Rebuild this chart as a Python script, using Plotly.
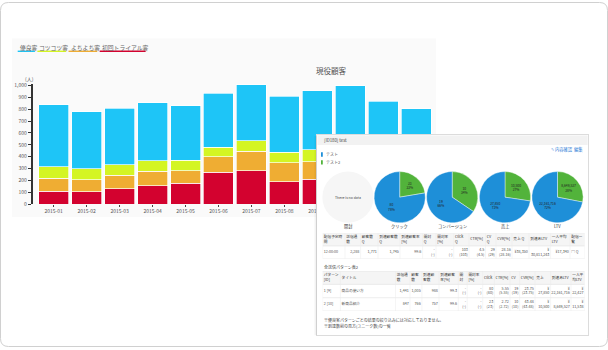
import plotly.graph_objects as go

W, H = 608, 350

# ---------------- data ----------------
months = ["2015-01", "2015-02", "2015-03", "2015-04", "2015-05", "2015-06",
          "2015-07", "2015-08", "2015-09", "2015-10", "2015-11", "2015-12"]
trial_customers = [108, 103, 131, 153, 175, 267, 283, 189, 211, 230, 200, 180]   # 初回トライアル客
yochi_customers = [111, 102, 113, 125, 108, 133, 164, 158, 145, 140, 130, 120]   # よちよち客
kotsu_customers = [95, 95, 89, 89, 86, 81, 86, 89, 102, 100, 90, 90]             # コツコツ客
good_customers = [525, 478, 475, 489, 462, 455, 475, 472, 500, 530, 449, 416]    # 優良客

series_names = ["初回トライアル客", "よちよち客", "コツコツ客", "優良客"]
series_values = [trial_customers, yochi_customers, kotsu_customers, good_customers]
series_colors = ["#D3022F", "#EFAD33", "#D4F523", "#1EC5F7"]
legend_order = ["優良客", "コツコツ客", "よちよち客", "初回トライアル客"]

y_ticks = [0, 100, 200, 300, 400, 500, 600, 700, 800, 900, 1000]

pie_titles = ["開封", "クリック", "コンバージョン", "売上", "LTV"]
pie_labels = ["テスト2", "テスト"]
pie_colors = ["#52B33B", "#1E8FD8"]
open_values = []
click_values = [23, 80]
cv_values = [10, 19]
sales_values = [10500, 27850]
ltv_values = [8649527, 22161716]
pie_values = [open_values, click_values, cv_values, sales_values, ltv_values]

t1_header = ["配信予定時<br>間", "送信通<br>数", "顧客数<br>Q", "到達顧客数<br>Q", "到達顧客率<br>[%]",
             "開封<br>Q", "開封率<br>[%]", "Click<br>Q", "CTR[%]", "CV<br>Q", "CVR[%]",
             "売上 Q", "到達あLTV", "一人平均<br>LTV", "配信一<br>覧"]
t1_row = ["12:00:00", "2,288", "1,771", "1,745", "99.6", "-<br>(-)", "-<br>(-)",
          "103<br>(103)", "4.5<br>(4.5)", "29<br>(29)", "28.16<br>(28.16)", "¥38,350",
          "¥<br>30,811,243", "¥17,340", "▤ Q"]
t1_widths = [22.4, 15.6, 17.4, 22, 22.6, 13.4, 17.7, 15.3, 16.5, 10.5, 16, 17, 21.6, 19.4, 14.7]
t1_aligns = ["left"] + ["right"] * 13 + ["left"]

t2_title = "全送信パターン表2"
t2_header = ["パターン<br>[ID]", "タイトル", "送信通<br>数", "顧客<br>数", "到達顧<br>客数", "到達顧客<br>率[%]",
             "開<br>封", "開封率<br>[%]", "Click", "CTR[%]", "CV", "CVR[%]", "売上", "到達あLTV", "一人平<br>均LTV"]
t2_row1 = ["1 [9]", "商品の使い方", "1,441", "1,005", "988", "99.3", "-<br>(-)", "-<br>(-)",
           "80<br>(80)", "5.55<br>(5.55)", "19<br>(19)", "23.75<br>(23.75)", "¥<br>27,850",
           "¥<br>22,161,716", "¥<br>22,427"]
t2_row2 = ["2 [10]", "新商品紹介", "847", "766", "757", "99.6", "-<br>(-)", "-<br>(-)",
           "23<br>(23)", "2.72<br>(2.72)", "10<br>(10)", "43.48<br>(43.48)", "¥<br>10,500",
           "¥<br>8,649,527", "¥<br>11,538"]
t2_widths = [17.8, 55.1, 14.5, 11.9, 17.1, 19.3, 8.9, 15.5, 11.7, 15.6, 9.6, 15.4, 15.6, 20.4, 13.7]
t2_aligns = ["left", "left"] + ["right"] * 13

footer_notes = ["※優良客パターンごとの結果の絞り込みには対応しておりません。",
                "※到達数前の見方(ユニーク数)の一覧"]

FONT = "Noto Sans CJK JP, Noto Sans, sans-serif"


def px(x):
    return x / W


def py(y):
    return 1 - y / H


fig = go.Figure()
ann = []
shapes = []
layout_axes = {}

# ---------------- stacked bars ----------------
for name, vals, col in zip(series_names, series_values, series_colors):
    fig.add_trace(go.Bar(x=months, y=vals, name=name,
                         marker=dict(color=col, line=dict(color="rgba(255,255,255,0.85)", width=0.8)),
                         xaxis="x", yaxis="y", showlegend=False, hoverinfo="skip"))

# overlay panel subplot (its background covers the bars)
fig.add_trace(go.Scatter(x=[None], y=[None], xaxis="x2", yaxis="y2", showlegend=False, hoverinfo="skip"))

# ---------------- pies ----------------
pie_cx = [348, 399.7, 452.2, 505, 557.5]
pie_cy = 198
pie_r = 26
for i, (title, vals) in enumerate(zip(pie_titles, pie_values)):
    dom = dict(x=[px(pie_cx[i] - pie_r), px(pie_cx[i] + pie_r)], y=[py(pie_cy + pie_r), py(pie_cy - pie_r)])
    if len(vals) == 0:
        fig.add_trace(go.Pie(values=[1], labels=["no data"], domain=dom, sort=False, textinfo="none",
                             marker=dict(colors=["#F6F6F6"]), showlegend=False, hoverinfo="skip"))
        ann.append(dict(x=px(pie_cx[i]), y=py(pie_cy), text="There is no data", font=dict(size=3.5, color="#444")))
    else:
        fig.add_trace(go.Pie(values=vals, labels=pie_labels, domain=dom, sort=False, direction="counterclockwise",
                             rotation=0, marker=dict(colors=pie_colors, line=dict(color="white", width=0.4)),
                             texttemplate="%{value:,}<br>%{percent:.0%}", textposition="inside",
                             insidetextorientation="horizontal",
                             textfont=dict(size=3.3, color="#222"), showlegend=False, hoverinfo="skip"))
    ann.append(dict(x=px(pie_cx[i]), y=py(227.5), text=title, font=dict(size=4.2, color="#333")))


# ---------------- tables (drawn on their own cartesian subplots) ----------------
def add_table(n, header, rows, widths, aligns, left, top, heights):
    xa, ya = f"x{n}", f"y{n}"
    total_w, total_h = sum(widths), sum(heights)
    layout_axes[f"xaxis{n}"] = dict(domain=[px(left), px(left + total_w)], range=[0, total_w], anchor=ya,
                                    visible=False, fixedrange=True)
    layout_axes[f"yaxis{n}"] = dict(domain=[py(top + total_h), py(top)], range=[total_h, 0], anchor=xa,
                                    visible=False, fixedrange=True)
    col_edges = [sum(widths[:k]) for k in range(len(widths) + 1)]
    row_edges = [sum(heights[:k]) for k in range(len(heights) + 1)]
    xs, ys, txt, pos, cols = [], [], [], [], []
    for r, row in enumerate([header] + rows):
        for c, val in enumerate(row):
            al = "left" if r == 0 else aligns[c]
            if al == "left":
                xs.append(col_edges[c] + 1.2)
                pos.append("middle right")
            else:
                xs.append(col_edges[c + 1] - 1.2)
                pos.append("middle left")
            ys.append((row_edges[r] + row_edges[r + 1]) / 2)
            txt.append(val)
            cols.append("#333" if r == 0 else "#555")
    # header background
    shapes.append(dict(type="rect", xref=xa, yref=ya, layer="between", x0=0, x1=total_w,
                       y0=row_edges[0], y1=row_edges[1], fillcolor="#F5F5F5", line=dict(width=0)))
    for re_ in row_edges:
        shapes.append(dict(type="line", xref=xa, yref=ya, layer="above", x0=0, x1=total_w, y0=re_, y1=re_,
                           line=dict(color="#E3E3E3", width=0.6)))
    for ce in col_edges:
        shapes.append(dict(type="line", xref=xa, yref=ya, layer="above", x0=ce, x1=ce,
                           y0=0, y1=total_h, line=dict(color="#EBEBEB", width=0.5)))
    fig.add_trace(go.Scatter(x=xs, y=ys, text=txt, mode="text", textposition=pos,
                             textfont=dict(size=3.7, color=cols, family=FONT), xaxis=xa, yaxis=ya,
                             showlegend=False, hoverinfo="skip", cliponaxis=False))


add_table(3, t1_header, [t1_row], t1_widths, t1_aligns, 322.6, 234.5, [13, 13])
add_table(4, t2_header, [t2_row1, t2_row2], t2_widths, t2_aligns, 322.6, 273, [13.5, 13.5, 13.5])

# ---------------- annotations & decorations ----------------
ann.append(dict(x=px(331), y=py(69.5), text="現役顧客", font=dict(size=7.5, color="#555")))
ann.append(dict(x=px(29), y=py(78), text="(人)", font=dict(size=5, color="#555")))

# outer rounded frame
rx, ry = 8 / W, 8 / H
x0, x1, y0, y1 = px(0.5), px(607.5), py(349.5), py(0.5)
shapes.append(dict(type="path", xref="paper", yref="paper", layer="below",
                   path=f"M{x0+rx},{y0} L{x1-rx},{y0} Q{x1},{y0} {x1},{y0+ry} L{x1},{y1-ry} Q{x1},{y1} {x1-rx},{y1} "
                        f"L{x0+rx},{y1} Q{x0},{y1} {x0},{y1-ry} L{x0},{y0+ry} Q{x0},{y0} {x0+rx},{y0} Z",
                   line=dict(color="#D0D0D0", width=1), fillcolor="white"))
# faint chart panel background
shapes.append(dict(type="rect", xref="paper", yref="paper", layer="below",
                   x0=px(12), x1=px(436), y0=py(218), y1=py(37), line=dict(width=0), fillcolor="#FAFAFA"))

# chart legend with coloured underlines
lx = 17.7
name_to_color = dict(zip(series_names, series_colors))
for nm in legend_order:
    w = len(nm) * 5.75
    ann.append(dict(x=px(lx), y=py(45.8), text=nm, xanchor="left", font=dict(size=5.8, color="#666")))
    shapes.append(dict(type="line", xref="paper", yref="paper", layer="above",
                       x0=px(lx), x1=px(lx + w), y0=py(50), y1=py(50),
                       line=dict(color=name_to_color[nm], width=1.4)))
    lx += w + 2.4

# overlay panel shadow and header bar
shapes.append(dict(type="rect", xref="paper", yref="paper", layer="above",
                   x0=px(314.5), x1=px(317), y0=py(338), y1=py(136), line=dict(width=0),
                   fillcolor="rgba(0,0,0,0.05)"))
shapes.append(dict(type="rect", xref="paper", yref="paper", layer="above",
                   x0=px(317.4), x1=px(587.6), y0=py(145), y1=py(135.4), line=dict(width=0), fillcolor="#F2F2F2"))
ann.append(dict(x=px(322), y=py(140), text="[ID180] test", xanchor="left", font=dict(size=4.3, color="#444")))
ann.append(dict(x=px(585), y=py(150), text="✎ 内容確認  編集", xanchor="right", font=dict(size=4.3, color="#2B7BD6")))

# pie legend
for k, (lab, col) in enumerate(zip(pie_labels[::-1], pie_colors[::-1])):
    yy = 154.7 + 8 * k
    shapes.append(dict(type="rect", xref="paper", yref="paper", layer="above",
                       x0=px(321), x1=px(322.8), y0=py(yy + 2.2), y1=py(yy - 2.2), line=dict(width=0), fillcolor=col))
    ann.append(dict(x=px(324), y=py(yy), text=lab, xanchor="left", font=dict(size=4, color="#555")))

ann.append(dict(x=px(322), y=py(269), text=t2_title, xanchor="left", font=dict(size=4, color="#444")))
for k, note in enumerate(footer_notes):
    ann.append(dict(x=px(322), y=py(322.5 + 5.8 * k), text=note, xanchor="left", font=dict(size=4, color="#444")))

for a in ann:
    a.setdefault("xanchor", "center")
    a.update(xref="paper", yref="paper", showarrow=False, yanchor="middle")

fig.update_layout(
    width=W, height=H, margin=dict(l=0, r=0, t=0, b=0),
    paper_bgcolor="white", plot_bgcolor="white",
    font=dict(family=FONT, color="#555"),
    barmode="stack", bargap=0.09,
    xaxis=dict(domain=[px(32.6), px(438)], range=[-0.64, 11.66], type="category",
               showline=False, showgrid=False, zeroline=False, ticks="outside", ticklen=2, tickwidth=0.8,
               tickcolor="#444", tickfont=dict(size=5, color="#555"), fixedrange=True),
    yaxis=dict(domain=[py(205), py(83)], range=[0, 1015], tickvals=y_ticks, tickformat=",",
               showline=True, linecolor="#333", linewidth=1.5, ticks="outside", ticklen=3, tickwidth=0.8,
               tickcolor="#333", showgrid=False, zeroline=False, tickfont=dict(size=5, color="#555"),
               fixedrange=True),
    xaxis2=dict(domain=[px(317), px(588)], range=[0, 1], anchor="y2", showline=True, mirror=True,
                linecolor="#DCDCDC", linewidth=0.8, showgrid=False, zeroline=False, showticklabels=False,
                ticks="", fixedrange=True),
    yaxis2=dict(domain=[py(338), py(135)], range=[0, 1], anchor="x2", showline=True, mirror=True,
                linecolor="#DCDCDC", linewidth=0.8, showgrid=False, zeroline=False, showticklabels=False,
                ticks="", fixedrange=True),
    annotations=ann, shapes=shapes,
    **layout_axes,
)

fig.write_html("out.html", config={"displayModeBar": False})
